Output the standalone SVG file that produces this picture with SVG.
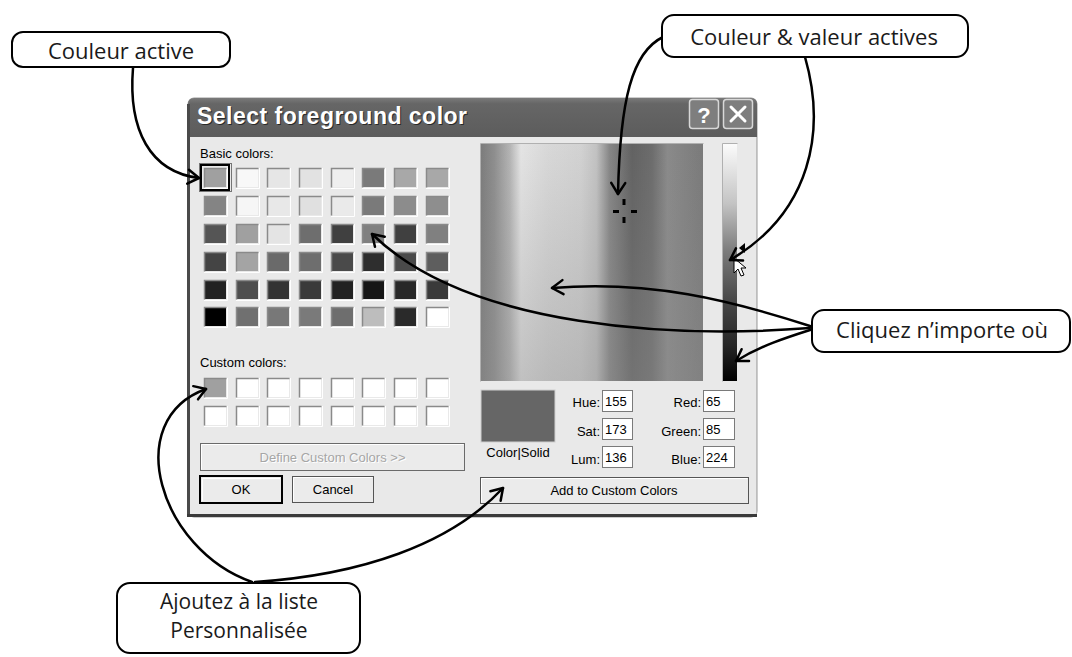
<svg xmlns="http://www.w3.org/2000/svg" xmlns:xlink="http://www.w3.org/1999/xlink" width="1072" height="657" viewBox="0 0 1072 657">
<style>
.ui{font-family:"Liberation Sans",Arial,sans-serif;font-size:13px;fill:#000}
.uir{font-family:"Liberation Sans",Arial,sans-serif;font-size:13px;fill:#000;text-anchor:end}
.uic{font-family:"Liberation Sans",Arial,sans-serif;font-size:13px;fill:#000;text-anchor:middle}
.box{fill:#fff;stroke:#000;stroke-width:2}
.lbl{font-family:"Open Sans","Liberation Sans",sans-serif;font-size:22px;fill:#1a1a1a;text-anchor:middle}
.lbl2{font-family:"Open Sans","Liberation Sans",sans-serif;font-size:21px;fill:#1a1a1a;text-anchor:middle}
.con{fill:none;stroke:#000;stroke-width:2.5;stroke-linecap:round;marker-end:url(#ah)}
.inp{fill:#fff;stroke:#7a7a7a;stroke-width:1}
.sw{stroke:none}
</style>
<defs>
<marker id="ah" viewBox="-14 -10 16 20" refX="0" refY="0" markerWidth="16" markerHeight="20" orient="auto" markerUnits="userSpaceOnUse">
<path d="M-11,-7 L0,0 L-11,7" fill="none" stroke="#000" stroke-width="2.5" stroke-linecap="round" stroke-linejoin="round"/>
</marker>
<g id="bev">
<path d="M0.5,19.5 V0.5 H22.5" fill="none" stroke="#8a8a8a" stroke-width="1.5"/>
<path d="M0,20.5 H23.5 V0" fill="none" stroke="#ffffff" stroke-width="1"/>
</g>
<linearGradient id="title" x1="0" y1="0" x2="0" y2="1">
<stop offset="0" stop-color="#7a7a7a"/><stop offset="0.15" stop-color="#666"/><stop offset="1" stop-color="#5c5c5c"/>
</linearGradient>
<linearGradient id="hue" x1="0" y1="0" x2="1" y2="0">
<stop offset="0" stop-color="#7c7c7c"/>
<stop offset="0.06" stop-color="#8e8e8e"/>
<stop offset="0.13" stop-color="#b4b4b4"/>
<stop offset="0.18" stop-color="#e4e4e4"/>
<stop offset="0.3" stop-color="#d8d8d8"/>
<stop offset="0.45" stop-color="#d2d2d2"/>
<stop offset="0.52" stop-color="#c2c2c2"/>
<stop offset="0.58" stop-color="#858585"/>
<stop offset="0.68" stop-color="#626262"/>
<stop offset="0.77" stop-color="#6c6c6c"/>
<stop offset="0.84" stop-color="#8a8a8a"/>
<stop offset="1" stop-color="#7a7a7a"/>
</linearGradient>
<linearGradient id="sat" x1="0" y1="0" x2="0" y2="1">
<stop offset="0" stop-color="#8c8c8c" stop-opacity="0"/>
<stop offset="1" stop-color="#8c8c8c" stop-opacity="0.4"/>
</linearGradient>
<linearGradient id="lum" x1="0" y1="0" x2="0" y2="1">
<stop offset="0" stop-color="#fbfbfb"/>
<stop offset="0.25" stop-color="#c4c4c4"/>
<stop offset="0.45" stop-color="#7c7c7c"/>
<stop offset="0.65" stop-color="#4a4a4a"/>
<stop offset="0.85" stop-color="#262626"/>
<stop offset="1" stop-color="#000"/>
</linearGradient>
</defs>

<g id="dialog">
<rect x="188" y="98" width="569" height="419" rx="6" fill="#e9e9e9" stroke="#9a9a9a" stroke-width="1"/>
<path d="M188,104 Q188,98 194,98 H751 Q757,98 757,104 V137 H188 Z" fill="url(#title)"/>
<rect x="187" y="104" width="3" height="413" fill="#4a4a4a"/>
<rect x="187" y="514" width="570" height="3" fill="#3a3a3a"/>
<line x1="756.5" y1="137" x2="756.5" y2="514" stroke="#bdbdbd" stroke-width="1"/>
<text x="198" y="125" font-family="Liberation Sans,Arial,sans-serif" font-size="23" font-weight="bold" fill="#2a2a2a" textLength="270" lengthAdjust="spacing">Select foreground color</text>
<text x="197" y="124" font-family="Liberation Sans,Arial,sans-serif" font-size="23" font-weight="bold" fill="#ffffff" textLength="270" lengthAdjust="spacing">Select foreground color</text>
<rect x="689.5" y="99.5" width="29" height="29" rx="3" fill="#7e7e7e" stroke="#d8d8d8" stroke-width="1.5"/>
<text x="704" y="123" font-family="Liberation Sans,Arial,sans-serif" font-size="22" font-weight="bold" fill="#fff" text-anchor="middle">?</text>
<rect x="723.5" y="99.5" width="29" height="29" rx="3" fill="#7e7e7e" stroke="#d8d8d8" stroke-width="1.5"/>
<path d="M731,107 L745,121 M745,107 L731,121" stroke="#fff" stroke-width="3" stroke-linecap="round"/>
</g>

<g id="basic-colors">
<text class="ui" x="200" y="158">Basic colors:</text>
<rect class="sw" x="204" y="168" width="22" height="19" fill="#a0a0a0"/><use xlink:href="#bev" x="204" y="168"/>
<rect class="sw" x="236" y="168" width="22" height="19" fill="#f8f8f8"/><use xlink:href="#bev" x="236" y="168"/>
<rect class="sw" x="267" y="168" width="22" height="19" fill="#e6e6e6"/><use xlink:href="#bev" x="267" y="168"/>
<rect class="sw" x="299" y="168" width="22" height="19" fill="#e2e2e2"/><use xlink:href="#bev" x="299" y="168"/>
<rect class="sw" x="331" y="168" width="22" height="19" fill="#efefef"/><use xlink:href="#bev" x="331" y="168"/>
<rect class="sw" x="362" y="168" width="22" height="19" fill="#7a7a7a"/><use xlink:href="#bev" x="362" y="168"/>
<rect class="sw" x="394" y="168" width="22" height="19" fill="#a8a8a8"/><use xlink:href="#bev" x="394" y="168"/>
<rect class="sw" x="426" y="168" width="22" height="19" fill="#a8a8a8"/><use xlink:href="#bev" x="426" y="168"/>

<rect class="sw" x="204" y="196" width="22" height="19" fill="#848484"/><use xlink:href="#bev" x="204" y="196"/>
<rect class="sw" x="236" y="196" width="22" height="19" fill="#f6f6f6"/><use xlink:href="#bev" x="236" y="196"/>
<rect class="sw" x="267" y="196" width="22" height="19" fill="#e8e8e8"/><use xlink:href="#bev" x="267" y="196"/>
<rect class="sw" x="299" y="196" width="22" height="19" fill="#e0e0e0"/><use xlink:href="#bev" x="299" y="196"/>
<rect class="sw" x="331" y="196" width="22" height="19" fill="#eaeaea"/><use xlink:href="#bev" x="331" y="196"/>
<rect class="sw" x="362" y="196" width="22" height="19" fill="#7a7a7a"/><use xlink:href="#bev" x="362" y="196"/>
<rect class="sw" x="394" y="196" width="22" height="19" fill="#8c8c8c"/><use xlink:href="#bev" x="394" y="196"/>
<rect class="sw" x="426" y="196" width="22" height="19" fill="#8e8e8e"/><use xlink:href="#bev" x="426" y="196"/>

<rect class="sw" x="204" y="224" width="22" height="19" fill="#555555"/><use xlink:href="#bev" x="204" y="224"/>
<rect class="sw" x="236" y="224" width="22" height="19" fill="#a0a0a0"/><use xlink:href="#bev" x="236" y="224"/>
<rect class="sw" x="267" y="224" width="22" height="19" fill="#e4e4e4"/><use xlink:href="#bev" x="267" y="224"/>
<rect class="sw" x="299" y="224" width="22" height="19" fill="#6e6e6e"/><use xlink:href="#bev" x="299" y="224"/>
<rect class="sw" x="331" y="224" width="22" height="19" fill="#404040"/><use xlink:href="#bev" x="331" y="224"/>
<rect class="sw" x="362" y="224" width="22" height="19" fill="#808080"/><use xlink:href="#bev" x="362" y="224"/>
<rect class="sw" x="394" y="224" width="22" height="19" fill="#404040"/><use xlink:href="#bev" x="394" y="224"/>
<rect class="sw" x="426" y="224" width="22" height="19" fill="#808080"/><use xlink:href="#bev" x="426" y="224"/>

<rect class="sw" x="204" y="252" width="22" height="19" fill="#444444"/><use xlink:href="#bev" x="204" y="252"/>
<rect class="sw" x="236" y="252" width="22" height="19" fill="#a4a4a4"/><use xlink:href="#bev" x="236" y="252"/>
<rect class="sw" x="267" y="252" width="22" height="19" fill="#6a6a6a"/><use xlink:href="#bev" x="267" y="252"/>
<rect class="sw" x="299" y="252" width="22" height="19" fill="#6e6e6e"/><use xlink:href="#bev" x="299" y="252"/>
<rect class="sw" x="331" y="252" width="22" height="19" fill="#4a4a4a"/><use xlink:href="#bev" x="331" y="252"/>
<rect class="sw" x="362" y="252" width="22" height="19" fill="#2e2e2e"/><use xlink:href="#bev" x="362" y="252"/>
<rect class="sw" x="394" y="252" width="22" height="19" fill="#4a4a4a"/><use xlink:href="#bev" x="394" y="252"/>
<rect class="sw" x="426" y="252" width="22" height="19" fill="#5e5e5e"/><use xlink:href="#bev" x="426" y="252"/>

<rect class="sw" x="204" y="280" width="22" height="19" fill="#222222"/><use xlink:href="#bev" x="204" y="280"/>
<rect class="sw" x="236" y="280" width="22" height="19" fill="#4e4e4e"/><use xlink:href="#bev" x="236" y="280"/>
<rect class="sw" x="267" y="280" width="22" height="19" fill="#333333"/><use xlink:href="#bev" x="267" y="280"/>
<rect class="sw" x="299" y="280" width="22" height="19" fill="#3a3a3a"/><use xlink:href="#bev" x="299" y="280"/>
<rect class="sw" x="331" y="280" width="22" height="19" fill="#222222"/><use xlink:href="#bev" x="331" y="280"/>
<rect class="sw" x="362" y="280" width="22" height="19" fill="#161616"/><use xlink:href="#bev" x="362" y="280"/>
<rect class="sw" x="394" y="280" width="22" height="19" fill="#282828"/><use xlink:href="#bev" x="394" y="280"/>
<rect class="sw" x="426" y="280" width="22" height="19" fill="#3a3a3a"/><use xlink:href="#bev" x="426" y="280"/>

<rect class="sw" x="204" y="307" width="22" height="19" fill="#000000"/><use xlink:href="#bev" x="204" y="307"/>
<rect class="sw" x="236" y="307" width="22" height="19" fill="#707070"/><use xlink:href="#bev" x="236" y="307"/>
<rect class="sw" x="267" y="307" width="22" height="19" fill="#787878"/><use xlink:href="#bev" x="267" y="307"/>
<rect class="sw" x="299" y="307" width="22" height="19" fill="#7a7a7a"/><use xlink:href="#bev" x="299" y="307"/>
<rect class="sw" x="331" y="307" width="22" height="19" fill="#6e6e6e"/><use xlink:href="#bev" x="331" y="307"/>
<rect class="sw" x="362" y="307" width="22" height="19" fill="#bdbdbd"/><use xlink:href="#bev" x="362" y="307"/>
<rect class="sw" x="394" y="307" width="22" height="19" fill="#2a2a2a"/><use xlink:href="#bev" x="394" y="307"/>
<rect class="sw" x="426" y="307" width="22" height="19" fill="#ffffff"/><use xlink:href="#bev" x="426" y="307"/>

<rect x="201" y="165" width="28" height="25" fill="none" stroke="#000" stroke-width="2"/>
<rect x="199.5" y="163.5" width="32" height="28" fill="none" stroke="#000" stroke-width="1" stroke-dasharray="1,1"/>
</g>

<g id="custom-colors">
<text class="ui" x="200" y="367">Custom colors:</text>
<rect class="sw" x="204" y="378" width="22" height="19" fill="#a0a0a0"/><use xlink:href="#bev" x="204" y="378"/>
<rect class="sw" x="236" y="378" width="22" height="19" fill="#fff"/><use xlink:href="#bev" x="236" y="378"/>
<rect class="sw" x="267" y="378" width="22" height="19" fill="#fff"/><use xlink:href="#bev" x="267" y="378"/>
<rect class="sw" x="299" y="378" width="22" height="19" fill="#fff"/><use xlink:href="#bev" x="299" y="378"/>
<rect class="sw" x="331" y="378" width="22" height="19" fill="#fff"/><use xlink:href="#bev" x="331" y="378"/>
<rect class="sw" x="362" y="378" width="22" height="19" fill="#fff"/><use xlink:href="#bev" x="362" y="378"/>
<rect class="sw" x="394" y="378" width="22" height="19" fill="#fff"/><use xlink:href="#bev" x="394" y="378"/>
<rect class="sw" x="426" y="378" width="22" height="19" fill="#fff"/><use xlink:href="#bev" x="426" y="378"/>
<rect class="sw" x="204" y="406" width="22" height="19" fill="#fff"/><use xlink:href="#bev" x="204" y="406"/>
<rect class="sw" x="236" y="406" width="22" height="19" fill="#fff"/><use xlink:href="#bev" x="236" y="406"/>
<rect class="sw" x="267" y="406" width="22" height="19" fill="#fff"/><use xlink:href="#bev" x="267" y="406"/>
<rect class="sw" x="299" y="406" width="22" height="19" fill="#fff"/><use xlink:href="#bev" x="299" y="406"/>
<rect class="sw" x="331" y="406" width="22" height="19" fill="#fff"/><use xlink:href="#bev" x="331" y="406"/>
<rect class="sw" x="362" y="406" width="22" height="19" fill="#fff"/><use xlink:href="#bev" x="362" y="406"/>
<rect class="sw" x="394" y="406" width="22" height="19" fill="#fff"/><use xlink:href="#bev" x="394" y="406"/>
<rect class="sw" x="426" y="406" width="22" height="19" fill="#fff"/><use xlink:href="#bev" x="426" y="406"/>
</g>

<g id="buttons-left">
<rect x="200.5" y="443.5" width="264" height="27" fill="#ebebeb" stroke="#6a6a6a"/>
<path d="M201.5,469.5 V444.5 H463.5" fill="none" stroke="#fff"/>
<text class="uic" x="333.5" y="462.5" style="fill:#fff">Define Custom Colors &gt;&gt;</text>
<text class="uic" x="332.5" y="461.5" style="fill:#a6a6a6">Define Custom Colors &gt;&gt;</text>
<rect x="200" y="476" width="82" height="27" fill="#ebebeb" stroke="#000" stroke-width="2"/>
<path d="M202.5,501 V478.5 H280" fill="none" stroke="#fff"/>
<text class="uic" x="241" y="494">OK</text>
<rect x="292.5" y="476.5" width="81" height="26" fill="#ebebeb" stroke="#555"/>
<path d="M293.5,501.5 V477.5 H372.5" fill="none" stroke="#fff"/>
<text class="uic" x="333" y="494">Cancel</text>
</g>

<g id="spectrum">
<rect x="481" y="144" width="222" height="237" fill="url(#hue)"/>
<rect x="481" y="144" width="222" height="237" fill="url(#sat)"/>
<path d="M480.5,381.5 V143.5 H703.5" fill="none" stroke="#b0b0b0"/>
<rect x="622.5" y="199" width="3" height="6" fill="#000"/>
<rect x="622.5" y="217" width="3" height="6" fill="#000"/>
<rect x="613" y="210" width="6" height="3" fill="#000"/>
<rect x="631" y="210" width="6" height="3" fill="#000"/>
<rect x="723" y="144" width="14" height="237" fill="url(#lum)"/>
<path d="M722.5,381.5 V143.5 H737.5" fill="none" stroke="#b0b0b0"/>
<polygon points="739,248 745,243 745,253" fill="#000"/>
<polygon points="734,258 734,273 738,269 741,276 744,275 741,268 746,268" fill="#fff" stroke="#000" stroke-width="1"/>
</g>

<g id="values">
<rect x="481" y="390" width="74" height="52" fill="#666666" stroke="#d0d0d0"/>
<text class="uic" x="518" y="457">Color|Solid</text>
<text class="uir" x="600" y="407">Hue:</text>
<rect class="inp" x="602.5" y="390.5" width="30" height="21"/>
<text class="ui" x="605" y="406">155</text>
<text class="uir" x="600" y="436">Sat:</text>
<rect class="inp" x="602.5" y="418.5" width="30" height="21"/>
<text class="ui" x="605" y="434">173</text>
<text class="uir" x="600" y="464">Lum:</text>
<rect class="inp" x="602.5" y="446.5" width="30" height="21"/>
<text class="ui" x="605" y="462">136</text>
<text class="uir" x="701" y="407">Red:</text>
<rect class="inp" x="703.5" y="390.5" width="31" height="21"/>
<text class="ui" x="706" y="406">65</text>
<text class="uir" x="701" y="436">Green:</text>
<rect class="inp" x="703.5" y="418.5" width="31" height="21"/>
<text class="ui" x="706" y="434">85</text>
<text class="uir" x="701" y="464">Blue:</text>
<rect class="inp" x="703.5" y="446.5" width="31" height="21"/>
<text class="ui" x="706" y="462">224</text>
<rect x="480.5" y="477.5" width="268" height="26" fill="#ebebeb" stroke="#555"/>
<path d="M481.5,502.5 V478.5 H747.5" fill="none" stroke="#fff"/>
<text class="uic" x="614" y="495">Add to Custom Colors</text>
</g>

<g id="connectors">
<path class="con" d="M133,68 C128,130 150,172 199,178"/>
<path class="con" d="M663,37 C632,52 620,100 618,194"/>
<path class="con" d="M805,57 C826,130 812,212 730,260"/>
<path class="con" d="M810,326 C730,300 650,280 552,288"/>
<path class="con" d="M810,328 C680,338 470,330 372,234"/>
<path class="con" d="M810,330 C785,338 760,346 736,361"/>
<path class="con" d="M252,582 C160,550 120,420 206,389"/>
<path class="con" d="M255,582 C360,575 450,545 503,488"/>
</g>

<g id="callout-couleur-active">
<rect class="box" x="12" y="32" width="218" height="35" rx="11"/>
<text class="lbl" x="121" y="59">Couleur active</text>
</g>
<g id="callout-couleur-valeur">
<rect class="box" x="662" y="15" width="306" height="42" rx="12"/>
<text class="lbl" x="814" y="45">Couleur &amp; valeur actives</text>
</g>
<g id="callout-cliquez">
<rect class="box" x="812" y="310" width="258" height="42" rx="12"/>
<text class="lbl" x="942" y="338">Cliquez n’importe où</text>
</g>
<g id="callout-ajoutez">
<rect class="box" x="117" y="583" width="243" height="70" rx="13"/>
<text class="lbl2" x="239" y="609">Ajoutez à la liste</text>
<text class="lbl2" x="239" y="638">Personnalisée</text>
</g>
</svg>
